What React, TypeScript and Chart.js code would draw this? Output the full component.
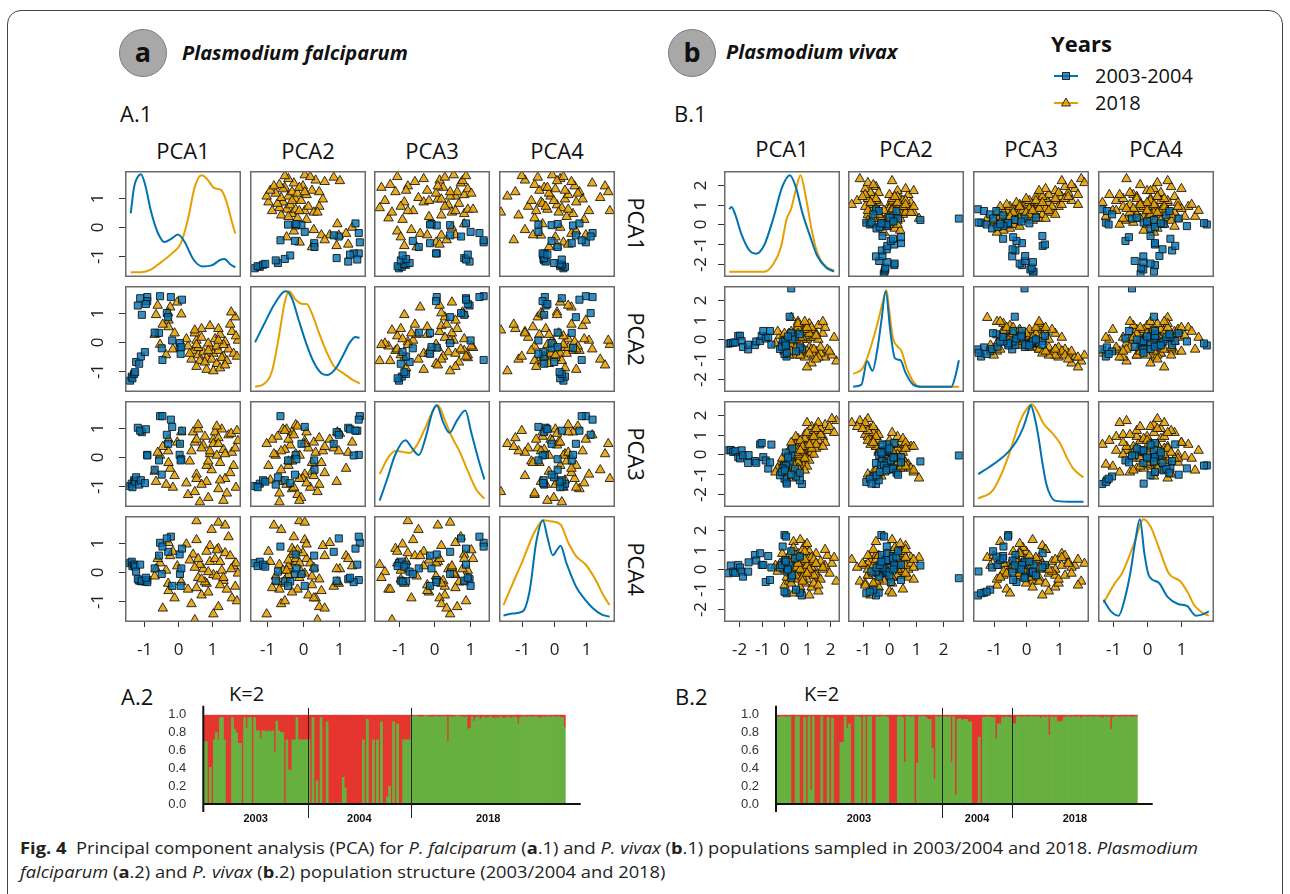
import React, { useEffect, useLayoutEffect, useRef } from 'react';
import { Chart, registerables } from 'chart.js';
Chart.register(...registerables);

const FONT = '"Open Sans", "DejaVu Sans", sans-serif';
const ARIAL = '"Liberation Sans", Arial, sans-serif';
const BLUE = '#0072B2';
const ORANGE = '#E69F00';
const BLUE_FILL = 'rgba(0,114,178,0.80)';
const ORANGE_FILL = 'rgba(230,159,0,0.88)';
const MARK_EDGE = 'rgba(15,15,15,0.85)';
const RED_Q = '#e5352f';
const GREEN_Q = '#67b03f';

const PCA_NAMES = ['PCA1', 'PCA2', 'PCA3', 'PCA4'];
const SERIES_NAMES = ['2003-2004', '2018'];
const YEAR_LABELS = ['2003', '2004', '2018'];

// ---- P. falciparum PCA scores [PCA1, PCA2, PCA3, PCA4]
const PF_2003_04 = [
  [-1.42, -1.33, -1.00, 0.30], [-1.37, -1.19, -0.92, 0.35], [-1.35, -1.25, -1.04, 0.20],
  [-1.30, -1.10, -0.80, 0.25], [-1.27, -1.04, -0.85, 0.18], [-1.24, -0.69, -0.70, 0.01],
  [-1.15, -0.75, -0.95, -0.30], [-1.10, -0.50, -0.80, -0.32], [-0.98, -0.35, -0.90, -0.33],
  [-1.19, 1.25, 1.00, -0.25], [-1.07, 0.93, 0.85, -0.30], [-0.91, 1.54, 0.07, -0.28],
  [-0.91, 1.40, 0.05, -0.35], [-1.12, 1.50, 0.90, 0.25], [-0.95, 1.30, 0.95, -0.20],
  [-0.53, 1.57, 1.40, 1.00], [-0.21, 1.54, 1.28, 1.21], [-0.33, 0.99, 0.76, 1.15],
  [-0.29, 0.85, 0.45, 0.69], [-0.56, 0.31, -0.12, 0.56], [-0.69, 0.32, -0.44, 0.12],
  [-0.48, -0.22, -0.61, -0.07], [-0.17, 0.05, 1.03, -0.48], [0.05, -0.20, 0.07, 0.60],
  [0.06, -0.04, 0.45, -0.07], [0.10, -0.18, -0.08, 0.12], [0.08, -0.41, -0.12, -0.48],
  [-0.46, -0.62, 1.40, 0.87], [0.12, 1.45, 0.90, 0.80],
];
const PF_2018 = [
  [0.45, -0.30, 0.85, 0.60], [0.60, -0.45, 0.95, -0.20], [0.75, -0.35, 0.40, 0.10], [0.85, -0.55, -0.85, -0.40],
  [0.95, -0.20, 0.10, 0.35], [1.05, -0.40, 0.60, -0.10], [1.20, -0.30, -1.10, 0.80], [1.35, -0.50, 0.25, -0.30],
  [1.50, -0.25, 0.75, 1.20], [1.65, -0.40, -0.30, 0.20], [1.78, 0.05, 0.55, -0.05], [0.30, -0.15, -1.30, -0.60],
  [0.55, 0.05, -0.60, 1.10], [0.70, 0.15, 0.30, -0.80], [0.90, -0.05, -1.40, 0.00], [1.10, 0.10, 0.85, 0.45],
  [1.25, 0.25, -0.20, -0.45], [1.40, 0.00, -0.75, 0.65], [1.60, 0.35, 0.15, -0.90], [1.72, 0.20, -1.05, 0.30],
  [0.40, -0.60, 0.20, -1.10], [0.65, -0.65, -1.55, 0.25], [0.80, -0.70, 0.70, -0.35], [1.00, -0.60, -0.45, 1.45],
  [1.15, -0.75, 0.05, -0.15], [1.30, -0.55, 0.95, 0.05], [1.45, -0.65, -1.25, -0.60], [0.50, 0.30, 0.50, 0.15],
  [0.70, 0.45, -0.95, -0.25], [0.95, 0.55, 0.20, 0.90], [1.20, 0.45, 0.65, -1.20], [1.55, 0.60, -0.55, 0.55],
  [1.70, 0.85, 0.30, -0.50], [1.58, 1.02, 0.80, 0.10], [0.35, -0.40, -0.15, 0.40], [0.55, -0.85, 0.60, -0.55],
  [0.85, -0.95, -0.30, 0.70], [1.05, -1.00, 0.45, -1.45], [1.25, -0.90, -0.80, 0.35], [1.40, -0.80, 0.10, 1.60],
  [0.60, -0.20, 1.10, 0.45], [0.90, -0.30, -0.15, -0.70], [1.15, -0.15, 1.05, 0.75], [1.35, -0.10, -1.50, -0.20],
  [1.75, -0.50, 0.90, -1.00], [0.25, 0.10, -0.90, 0.95], [-0.02, 1.36, 0.50, 0.20], [-0.23, 1.19, -0.40, 0.55],
  [-0.29, 0.99, 0.20, -0.40], [-0.65, 0.93, -0.85, 0.10], [-0.28, 0.74, 0.60, 1.00], [-0.28, 0.51, -0.20, -0.65],
  [-0.53, -0.09, 0.05, 0.30], [-0.69, 0.25, -0.50, -0.15], [-0.45, 0.60, 0.35, -1.25], [-0.15, -0.25, -1.05, 0.70],
  [-0.60, 1.25, 0.15, 0.45], [-0.10, 0.30, -0.65, -0.90], [0.10, 0.95, 0.85, -0.35], [-0.35, -0.45, -0.95, 0.05],
  [0.55, -0.10, -0.75, 1.75], [1.20, 0.05, 0.45, 1.70], [0.50, 0.40, -1.20, -1.65],
];

// ---- P. vivax PCA scores [PCA1, PCA2, PCA3, PCA4]
const PV_2003_04 = [
  [-2.49, -0.21, 0.21, -0.19], [-2.38, -0.18, 0.23, 0.20], [-2.27, -0.16, 0.13, -0.11], [-2.18, -0.15, 0.17, -0.17],
  [-2.05, 0.18, -0.13, 0.23], [-1.97, 0.19, -0.20, 0.10], [-1.90, -0.08, 0.21, -0.11], [-1.84, -0.38, -0.04, -0.36],
  [-1.61, -0.50, -0.43, -0.11], [-1.59, -0.26, -0.03, 0.36], [-1.31, -0.28, -0.33, 0.73], [-1.25, -0.10, -0.42, 0.45],
  [-1.08, -0.08, 0.51, 0.82], [-1.01, 0.18, 0.58, 0.23], [-0.94, 0.43, -0.13, 0.23], [-0.83, 0.05, -0.30, -0.63],
  [-0.72, 0.13, -0.71, 0.68], [-0.64, 0.43, -0.40, -0.53], [-0.58, -0.26, 0.50, 0.10],
  [0.30, 2.58, -0.05, -0.44], [0.23, 1.15, -0.35, 0.20], [0.00, -0.30, -0.55, 1.74], [0.07, -0.20, -0.56, 1.66],
  [-0.08, -0.10, -0.70, 1.16], [0.77, -0.50, -1.49, -1.31], [0.68, -0.40, -1.30, -1.17], [0.51, -0.60, -1.11, -1.02],
  [0.09, -0.86, -1.39, -1.20], [0.00, -0.73, -1.22, -1.12], [0.10, -0.67, -1.47, -0.10], [-0.20, -0.48, -1.05, 0.10],
  [-0.12, -0.36, -0.88, 0.23], [0.02, -0.11, -0.80, 0.48], [0.46, 0.13, -0.72, 0.56], [0.68, 0.26, -0.92, 0.65],
  [0.30, 0.32, -1.02, 0.92], [0.34, 0.00, 0.30, -0.30], [0.06, -0.30, 0.10, 0.40], [0.15, 0.15, -0.15, 0.00],
];
const PV_2018 = [
  [0.2, 0.3, -0.6, 0.1], [0.5, 0.1, -0.2, -0.4], [0.8, 0.5, 0.3, 0.5], [1.1, -0.4, 0.7, -0.2], [1.4, -0.6, 1.1, 0.8],
  [1.8, -0.9, 1.5, 0.2], [2.3, -1.1, 1.7, -0.6], [0.0, -0.6, -0.9, -0.8], [0.3, 0.4, -0.4, 0.9], [0.6, 0.3, 0.1, 0.0],
  [0.9, 0.6, 0.5, 1.2], [1.2, -0.5, 0.9, -0.9], [1.6, -0.7, 1.3, 0.4], [-0.2, 0.2, -0.5, 0.3], [0.4, -0.1, 0.0, -0.1],
  [0.7, 0.2, -0.3, 0.6], [1.0, 0.0, 0.2, -0.5], [1.3, 0.4, 0.6, 0.1], [0.1, -0.3, -1.1, 0.2], [0.5, 0.5, -0.7, -0.3],
  [0.8, 0.3, -0.4, 0.3], [1.1, 0.1, 0.0, 0.9], [1.5, 0.7, 0.4, -0.4], [0.3, -0.5, 0.4, 0.0], [0.6, -0.7, 0.8, 0.4],
  [0.9, -0.9, 1.0, -0.7], [1.2, -1.2, 1.4, 0.1], [1.0, -1.4, 1.6, 0.5], [0.4, -0.5, -0.8, 1.4], [0.7, 0.5, -0.6, -1.0],
  [0.9, 0.2, -0.1, 0.2], [0.6, 0.4, -0.2, 0.8], [0.8, 0.0, 0.2, -0.2], [0.5, 0.2, 0.5, 0.3], [0.2, -0.2, 0.2, -0.6],
  [0.0, 0.0, -0.3, 0.5], [-0.3, 0.4, -0.7, -0.1], [1.7, 0.3, 0.9, 0.0], [1.9, -0.5, 1.2, 0.7], [2.1, -0.8, 1.8, 0.3],
  [1.4, 0.3, 0.3, -0.3], [1.2, 0.5, 0.1, 0.4], [0.9, 0.7, -0.5, 0.0], [0.6, 0.9, -0.9, -0.5], [0.3, 1.1, -1.2, 0.6],
  [0.8, -0.6, 0.6, 1.0], [0.5, -0.8, 0.9, -0.3], [1.1, 0.8, 0.4, 0.6], [1.3, 0.1, 0.0, -0.7], [0.7, -0.4, 0.2, -0.9],
  [0.4, 0.2, -0.1, 1.1], [0.1, 0.1, -0.8, -0.4], [1.0, 0.4, -0.2, 1.3], [1.5, 0.0, 0.7, -1.1], [0.6, 0.6, -0.4, 0.2],
  [0.9, 0.5, 0.8, -0.1], [1.6, -0.4, 1.0, -0.5], [0.2, -0.8, -1.0, 0.7], [0.7, -0.2, -0.1, 0.4], [1.0, -0.6, 1.1, 0.2],
  [1.3, -0.8, 1.2, -0.3], [0.5, 0.0, 0.3, 0.1], [0.8, 0.1, 0.1, -0.4], [1.1, 0.3, -0.3, 0.0], [0.3, -0.3, -0.2, -0.2],
  [0.6, 0.3, 0.0, 0.5], [0.9, 0.5, -0.2, 0.9], [1.4, 0.2, 0.5, 0.3], [1.8, 0.6, 0.6, 1.0], [2.0, -0.6, 1.4, -0.2],
  [0.4, 0.1, -0.5, -1.2], [0.7, -0.8, 0.7, 0.0], [1.2, 0.6, 0.3, 0.6], [0.0, 0.3, -0.4, 0.0], [-0.1, -0.1, -0.2, 0.8],
  [0.6, 0.8, -0.7, 0.3], [1.0, 0.6, -0.6, -0.2], [1.3, -0.5, 0.9, 0.5], [1.5, -0.9, 1.6, -0.8], [0.8, -0.5, 0.4, -0.6],
  [0.5, -0.4, 0.1, 0.7], [1.7, 0.9, 0.4, 0.1], [0.2, 0.0, -0.3, 0.4], [0.9, 0.9, -0.8, 0.5], [1.1, -0.7, 0.5, -1.3],
  [0.7, 0.1, 0.2, 1.5], [1.4, -1.0, 1.3, 0.3], [-0.4, -0.2, -0.9, 0.2], [0.3, -0.6, 0.6, -0.7], [2.2, 0.1, 1.1, 0.6],
];

// ---- density curves on the diagonal, [value, relative density]
const PF_DENS_2003_04 = [
  [[-1.40, 0.60], [-1.30, 0.85], [-1.18, 0.95], [-1.10, 0.97], [-0.98, 0.88], [-0.80, 0.62], [-0.60, 0.42], [-0.40, 0.33], [-0.20, 0.36], [0.00, 0.40], [0.20, 0.33], [0.45, 0.17], [0.72, 0.10], [1.00, 0.11], [1.25, 0.16], [1.38, 0.17], [1.55, 0.12], [1.70, 0.09]],
  [[-1.32, 0.47], [-1.10, 0.62], [-0.80, 0.82], [-0.55, 0.94], [-0.45, 0.95], [-0.30, 0.88], [-0.10, 0.66], [0.10, 0.45], [0.30, 0.28], [0.50, 0.18], [0.68, 0.16], [0.90, 0.22], [1.10, 0.34], [1.30, 0.47], [1.45, 0.52], [1.56, 0.51]],
  [[-1.55, 0.06], [-1.35, 0.25], [-1.10, 0.50], [-0.82, 0.63], [-0.62, 0.55], [-0.44, 0.49], [-0.25, 0.65], [-0.05, 0.90], [0.07, 0.96], [0.25, 0.80], [0.43, 0.70], [0.65, 0.82], [0.88, 0.91], [1.05, 0.70], [1.25, 0.45], [1.42, 0.26]],
  [[-1.57, 0.06], [-1.30, 0.08], [-0.97, 0.10], [-0.75, 0.30], [-0.55, 0.75], [-0.34, 0.96], [-0.20, 0.80], [-0.03, 0.63], [0.10, 0.68], [0.21, 0.72], [0.40, 0.55], [0.70, 0.33], [0.95, 0.22], [1.22, 0.13], [1.50, 0.07], [1.74, 0.05]],
];
const PF_DENS_2018 = [
  [[-1.40, 0.044], [-1.10, 0.045], [-0.80, 0.07], [-0.50, 0.14], [-0.15, 0.23], [0.09, 0.32], [0.30, 0.55], [0.50, 0.85], [0.70, 0.96], [0.85, 0.93], [1.07, 0.84], [1.20, 0.83], [1.31, 0.81], [1.45, 0.70], [1.60, 0.52], [1.70, 0.41]],
  [[-1.32, 0.05], [-1.10, 0.07], [-0.85, 0.20], [-0.65, 0.55], [-0.50, 0.85], [-0.38, 0.95], [-0.20, 0.87], [0.00, 0.83], [0.10, 0.83], [0.25, 0.74], [0.45, 0.55], [0.65, 0.38], [0.84, 0.25], [1.10, 0.18], [1.35, 0.12], [1.57, 0.08]],
  [[-1.55, 0.31], [-1.30, 0.47], [-1.08, 0.53], [-0.90, 0.52], [-0.70, 0.51], [-0.50, 0.58], [-0.25, 0.75], [0.00, 0.93], [0.10, 0.96], [0.30, 0.82], [0.50, 0.66], [0.71, 0.53], [0.95, 0.34], [1.20, 0.16], [1.42, 0.08]],
  [[-1.57, 0.16], [-1.20, 0.42], [-0.97, 0.58], [-0.60, 0.85], [-0.30, 0.96], [-0.10, 0.95], [0.21, 0.92], [0.45, 0.75], [0.70, 0.62], [1.00, 0.54], [1.30, 0.40], [1.55, 0.25], [1.74, 0.16]],
];
const PV_DENS_2003_04 = [
  [[-2.45, 0.64], [-2.35, 0.66], [-2.20, 0.60], [-1.90, 0.40], [-1.55, 0.25], [-1.26, 0.22], [-0.90, 0.30], [-0.50, 0.55], [-0.10, 0.85], [0.24, 0.96], [0.50, 0.85], [0.80, 0.60], [1.11, 0.40], [1.45, 0.20], [1.84, 0.09], [2.20, 0.05]],
  [[-1.35, 0.05], [-1.04, 0.07], [-0.83, 0.29], [-0.63, 0.20], [-0.45, 0.40], [-0.30, 0.67], [-0.14, 0.95], [0.03, 0.58], [0.20, 0.32], [0.41, 0.30], [0.60, 0.18], [0.88, 0.07], [1.19, 0.05], [1.80, 0.05], [2.30, 0.05], [2.45, 0.15], [2.58, 0.30]],
  [[-1.48, 0.31], [-1.12, 0.38], [-0.80, 0.45], [-0.55, 0.52], [-0.30, 0.62], [-0.09, 0.75], [0.05, 0.88], [0.14, 0.96], [0.26, 0.85], [0.38, 0.66], [0.50, 0.42], [0.62, 0.22], [0.75, 0.11], [0.89, 0.06], [1.30, 0.05], [1.77, 0.05]],
  [[-1.27, 0.21], [-1.05, 0.10], [-0.83, 0.06], [-0.65, 0.22], [-0.49, 0.46], [-0.35, 0.75], [-0.21, 0.97], [-0.08, 0.65], [0.05, 0.44], [0.34, 0.37], [0.59, 0.24], [0.90, 0.17], [1.17, 0.15], [1.42, 0.06], [1.60, 0.07], [1.80, 0.10]],
];
const PV_DENS_2018 = [
  [[-2.45, 0.05], [-1.50, 0.05], [-0.90, 0.05], [-0.50, 0.12], [-0.16, 0.28], [0.10, 0.55], [0.29, 0.64], [0.50, 0.82], [0.71, 0.96], [0.95, 0.75], [1.20, 0.45], [1.38, 0.28], [1.60, 0.16], [1.84, 0.10], [2.20, 0.06]],
  [[-1.35, 0.17], [-0.98, 0.23], [-0.70, 0.42], [-0.42, 0.67], [-0.25, 0.85], [-0.11, 0.96], [0.00, 0.75], [0.13, 0.51], [0.30, 0.43], [0.44, 0.39], [0.65, 0.22], [0.88, 0.10], [1.12, 0.05], [1.80, 0.05], [2.58, 0.05]],
  [[-1.48, 0.08], [-1.02, 0.16], [-0.75, 0.32], [-0.50, 0.52], [-0.20, 0.80], [0.05, 0.94], [0.17, 0.97], [0.35, 0.90], [0.53, 0.79], [0.80, 0.70], [1.05, 0.60], [1.25, 0.47], [1.46, 0.36], [1.77, 0.28]],
  [[-1.27, 0.18], [-0.95, 0.36], [-0.73, 0.46], [-0.39, 0.73], [-0.10, 0.97], [0.10, 0.90], [0.30, 0.74], [0.63, 0.46], [0.98, 0.38], [1.20, 0.27], [1.37, 0.16], [1.60, 0.09], [1.80, 0.06]],
];

// ---- axis ranges and ticks
const PF_X_RANGES = [[-1.57, 1.87], [-1.46, 1.74], [-1.71, 1.58], [-1.71, 1.91]];
const PF_Y_RANGE = [-1.72, 1.92];
const PF_X_TICKS = [[-1, 0, 1], [-1, 0, 1], [-1, 0, 1], [-1, 0, 1]];
const PF_Y_TICKS = [-1, 0, 1];
const PV_X_RANGES = [[-2.68, 2.46], [-1.54, 2.77], [-1.64, 1.94], [-1.43, 1.95]];
const PV_Y_RANGE = [-2.65, 2.7];
const PV_X_TICKS = [[-2, -1, 0, 1, 2], [-1, 0, 1, 2], [-1, 0, 1], [-1, 0, 1]];
const PV_Y_TICKS = [-2, -1, 0, 1, 2];
const Q_TICKS = [0, 0.2, 0.4, 0.6, 0.8, 1.0];

// ---- STRUCTURE K=2 membership (green cluster proportion per isolate)
const PF_Q_2003 = [0.70, 0.70, 0.0, 0.41, 0.0, 0.72, 0.80, 0.72, 0.97, 0.97, 0.72, 0.0, 0.0, 0.0, 0.97, 0.84, 0.80, 0.68, 0.68, 0.0, 0.97, 0.85, 0.97, 0.97, 0.0, 0.97, 0.82, 0.82, 0.73, 0.82, 0.82, 0.81, 0.82, 0.81, 0.82, 0.58, 0.93, 0.82, 0.80, 0.80, 0.0, 0.72, 0.38, 0.38, 0.72, 0.72, 0.97, 0.72, 0.72, 0.72, 0.72, 0.72];
const PF_Q_2004 = [0.72, 0.0, 0.97, 0.0, 0.26, 0.0, 0.97, 0.0, 0.0, 0.92, 0.0, 0.01, 0.01, 0.01, 0.01, 0.01, 0.01, 0.30, 0.18, 0.0, 0.0, 0.0, 0.0, 0.0, 0.0, 0.0, 0.0, 0.72, 0.0, 0.95, 0.0, 0.0, 0.72, 0.0, 0.72, 0.0, 0.92, 0.0, 0.0, 0.08, 0.20, 0.0, 0.92, 0.0, 0.90, 0.0, 0.01, 0.72, 0.72, 0.72, 0.72];
const PF_Q_2018 = [0.98, 0.98, 0.99, 0.98, 0.98, 0.97, 0.98, 0.99, 0.98, 0.98, 0.97, 0.98, 0.98, 0.98, 0.97, 0.98, 0.98, 0.98, 0.70, 0.98, 0.97, 0.98, 0.98, 0.99, 0.98, 0.98, 0.97, 0.98, 0.84, 0.85, 0.98, 0.93, 0.97, 0.98, 0.95, 0.97, 0.98, 0.96, 0.97, 0.98, 0.97, 0.96, 0.97, 0.96, 0.98, 0.97, 0.96, 0.97, 0.98, 0.96, 0.97, 0.98, 0.97, 0.90, 0.97, 0.98, 0.98, 0.97, 0.98, 0.98, 0.97, 0.98, 0.98, 0.97, 0.96, 0.98, 0.97, 0.98, 0.98, 0.97, 0.98, 0.98, 0.97, 0.98, 0.97, 0.97, 0.86];
const PV_Q_2003 = [0.98, 0.97, 0.98, 0.98, 0.97, 0.98, 0.98, 0, 0, 0.98, 0.98, 0, 0, 0.97, 0, 0.98, 0.16, 0.98, 0, 0, 0, 0.98, 0, 0, 0.97, 0, 0.96, 0, 0, 0, 0.69, 0.69, 0.98, 0.85, 0.90, 0, 0, 0.98, 0.98, 0.97, 0, 0.98, 0, 0.98, 0.98, 0, 0, 0.98, 0.97, 0.98, 0.98, 0.98, 0.97, 0, 0, 0, 0, 0.98, 0.98, 0.97, 0.47, 0.98, 0.98, 0.97, 0.98, 0, 0.46, 0.98, 0.98, 0.98, 0.97, 0.95, 0.95, 0.62, 0.28, 0.98, 0.97, 0.98];
const PV_Q_2004 = [0.98, 0.98, 0.97, 0.98, 0.47, 0.98, 0.10, 0.95, 0.96, 0.94, 0.95, 0.95, 0.92, 0.92, 0, 0, 0, 0.75, 0, 0.97, 0.97, 0.98, 0.97, 0.97, 0.97, 0.73, 0.90, 0.90, 0.97, 0.97, 0.98, 0.97, 0.97];
const PV_Q_2018 = [0.90, 0.90, 0.98, 0.98, 0.97, 0.98, 0.98, 0.97, 0.98, 0.98, 0.97, 0.98, 0.98, 0.96, 0.98, 0.97, 0.98, 0.77, 0.98, 0.97, 0.98, 0.92, 0.92, 0.93, 0.97, 0.98, 0.98, 0.97, 0.98, 0.98, 0.97, 0.98, 0.96, 0.98, 0.98, 0.97, 0.98, 0.98, 0.97, 0.98, 0.98, 0.97, 0.96, 0.98, 0.97, 0.98, 0.84, 0.97, 0.98, 0.98, 0.97, 0.98, 0.98, 0.97, 0.98, 0.98, 0.97, 0.98, 0.98];

// ---------------------------------------------------------------------------
const PANEL_W = 116;
const PANEL_H = 106;
const ROW_TOPS = [171, 286, 401, 516];
const PF_COLS = [125, 250, 374, 499];
const PV_COLS = [724, 848, 973, 1098];

function Panel(props: any) {
  const ref = useRef<HTMLCanvasElement>(null);
  const { left, top, padL, padB } = props;
  const cw = PANEL_W + padL;
  const ch = PANEL_H + padB;
  useEffect(() => {
    const p = props;
    const decor = {
      id: 'decor',
      afterDraw(chart: any) {
        const { ctx, chartArea: a } = chart;
        ctx.save();
        ctx.strokeStyle = '#6a6a6a';
        ctx.lineWidth = 1.5;
        ctx.strokeRect(a.left + 0.75, a.top + 0.75, a.right - a.left - 1.5, a.bottom - a.top - 1.5);
        ctx.strokeStyle = '#333';
        ctx.lineWidth = 1;
        ctx.fillStyle = '#222';
        ctx.font = `17px ${FONT}`;
        if (p.xTicks) {
          const xs = chart.scales.x;
          ctx.textAlign = 'center';
          ctx.textBaseline = 'middle';
          for (const v of p.xTicks) {
            const px = Math.round(xs.getPixelForValue(v)) + 0.5;
            ctx.beginPath();
            ctx.moveTo(px, a.bottom);
            ctx.lineTo(px, a.bottom + 5);
            ctx.stroke();
            ctx.fillText(String(v), px, a.bottom + 28);
          }
        }
        if (p.yTicks) {
          const ys = chart.scales.yt;
          ctx.textAlign = 'center';
          ctx.textBaseline = 'middle';
          for (const v of p.yTicks) {
            const py = Math.round(ys.getPixelForValue(v)) + 0.5;
            ctx.beginPath();
            ctx.moveTo(a.left - 6, py);
            ctx.lineTo(a.left, py);
            ctx.stroke();
            ctx.save();
            ctx.translate(a.left - p.yGap, py);
            ctx.rotate(-Math.PI / 2);
            ctx.fillText(String(v), 0, 0);
            ctx.restore();
          }
        }
        ctx.restore();
      },
    };
    const chart = new Chart(ref.current as HTMLCanvasElement, {
      type: 'scatter',
      data: { datasets: p.datasets },
      options: {
        animation: false,
        responsive: false,
        events: [],
        layout: { autoPadding: false, padding: { left: padL, bottom: padB, top: 0, right: 0 } },
        scales: {
          x: { type: 'linear', display: false, min: p.xRange[0], max: p.xRange[1] },
          y: { type: 'linear', display: false, min: p.yRange[0], max: p.yRange[1] },
          yt: { type: 'linear', display: false, position: 'left', min: p.tickRange[0], max: p.tickRange[1] },
        },
        plugins: { legend: { display: false }, tooltip: { enabled: false } },
      } as any,
      plugins: [decor],
    });
    return () => chart.destroy();
  }, []);
  return (
    <canvas
      ref={ref}
      width={cw}
      height={ch}
      style={{ position: 'absolute', left: left - padL, top, width: cw, height: ch }}
    />
  );
}

function pointSet(samples: number[][], xi: number, yi: number, blue: boolean) {
  return {
    label: blue ? SERIES_NAMES[0] : SERIES_NAMES[1],
    data: samples.map((s) => ({ x: s[xi], y: s[yi] })),
    pointStyle: blue ? 'rect' : 'triangle',
    pointRadius: blue ? 5 : 5.5,
    pointBackgroundColor: blue ? BLUE_FILL : ORANGE_FILL,
    pointBorderColor: MARK_EDGE,
    pointBorderWidth: 1,
    showLine: false,
  };
}

function densSet(curve: number[][], blue: boolean) {
  return {
    label: blue ? SERIES_NAMES[0] : SERIES_NAMES[1],
    data: curve.map(([x, y]) => ({ x, y })),
    showLine: true,
    pointRadius: 0,
    borderColor: blue ? BLUE : ORANGE,
    borderWidth: 2,
    cubicInterpolationMode: 'monotone',
    fill: false,
  };
}

function PairsGrid({ cols, xRanges, yRange, xTicks, yTicks, blueS, orangeS, blueD, orangeD, yGap }: any) {
  const panels: any[] = [];
  for (let i = 0; i < 4; i++) {
    for (let j = 0; j < 4; j++) {
      const diag = i === j;
      const datasets = diag
        ? [densSet(blueD[i], true), densSet(orangeD[i], false)]
        : [pointSet(blueS, j, i, true), pointSet(orangeS, j, i, false)];
      panels.push(
        <Panel
          key={`${i}-${j}`}
          left={cols[j]}
          top={ROW_TOPS[i]}
          padL={j === 0 ? 50 : 0}
          padB={i === 3 ? 45 : 0}
          datasets={datasets}
          xRange={xRanges[j]}
          yRange={diag ? [0, 1] : yRange}
          tickRange={yRange}
          xTicks={i === 3 ? xTicks[j] : null}
          yTicks={j === 0 ? yTicks : null}
          yGap={yGap}
        />
      );
    }
  }
  return <>{panels}</>;
}

function StructurePlot({ left, top, axisW, padR, groups }: any) {
  const ref = useRef<HTMLCanvasElement>(null);
  const W = 460;
  const H = 140;
  useEffect(() => {
    const green: number[] = ([] as number[]).concat(...groups);
    const red = green.map((g) => 1 - g);
    const labels = green.map((_, i) => String(i));
    const sizes = groups.map((g: number[]) => g.length);
    const deco = {
      id: 'structDeco',
      afterDraw(chart: any) {
        const { ctx, chartArea: a } = chart;
        const xs = chart.scales.x;
        const step = xs.getPixelForValue(1) - xs.getPixelForValue(0);
        const bound = (idx: number) => xs.getPixelForValue(idx) - step / 2;
        ctx.save();
        ctx.strokeStyle = '#111';
        ctx.lineWidth = 2;
        ctx.beginPath();
        ctx.moveTo(a.left, a.top - 9);
        ctx.lineTo(a.left, a.bottom + 8);
        ctx.moveTo(a.left - 1, a.bottom);
        ctx.lineTo(a.right + 15, a.bottom);
        ctx.stroke();
        ctx.lineWidth = 1;
        ctx.strokeStyle = '#222';
        let acc = 0;
        const edges = [bound(0)];
        sizes.forEach((n: number) => {
          acc += n;
          edges.push(bound(acc));
        });
        for (let k = 1; k < edges.length - 1; k++) {
          const x = Math.round(edges[k]) + 0.5;
          ctx.beginPath();
          ctx.moveTo(x, a.top - 7);
          ctx.lineTo(x, a.bottom + 14);
          ctx.stroke();
        }
        ctx.fillStyle = '#111';
        ctx.font = `bold 11px ${ARIAL}`;
        ctx.textAlign = 'center';
        ctx.textBaseline = 'middle';
        for (let k = 0; k < YEAR_LABELS.length; k++) {
          ctx.fillText(YEAR_LABELS[k], (edges[k] + edges[k + 1]) / 2, a.bottom + 15);
        }
        ctx.restore();
      },
    };
    const chart = new Chart(ref.current as HTMLCanvasElement, {
      type: 'bar',
      data: {
        labels,
        datasets: [
          { data: green, backgroundColor: GREEN_Q, borderWidth: 0, barPercentage: 1, categoryPercentage: 1 },
          { data: red, backgroundColor: RED_Q, borderWidth: 0, barPercentage: 1, categoryPercentage: 1 },
        ],
      },
      options: {
        animation: false,
        responsive: false,
        events: [],
        layout: { autoPadding: false, padding: { left: 0, right: padR, top: 24, bottom: 26 } },
        scales: {
          x: { stacked: true, display: false },
          y: {
            stacked: true,
            min: 0,
            max: 1,
            afterBuildTicks: (s: any) => {
              s.ticks = Q_TICKS.map((v) => ({ value: v }));
            },
            afterFit: (s: any) => {
              s.width = axisW;
            },
            grid: { display: false, drawTicks: false },
            border: { display: false },
            ticks: {
              autoSkip: false,
              padding: 17,
              color: '#333',
              font: { family: ARIAL, size: 13 },
              callback: (v: any) => Number(v).toFixed(1),
            },
          },
        },
        plugins: { legend: { display: false }, tooltip: { enabled: false } },
      } as any,
      plugins: [deco],
    });
    return () => chart.destroy();
  }, []);
  return <canvas ref={ref} width={W} height={H} style={{ position: 'absolute', left, top, width: W, height: H }} />;
}

function Txt({ x, y, size, weight, italic, center, rotate, children, family }: any) {
  let tf = center ? 'translate(-50%,-50%)' : 'translate(0,-50%)';
  if (rotate) tf += ` rotate(${rotate}deg)`;
  return (
    <div
      style={{
        position: 'absolute',
        left: x,
        top: y,
        transform: tf,
        whiteSpace: 'nowrap',
        fontFamily: family || FONT,
        fontSize: size,
        fontWeight: weight || 400,
        fontStyle: italic ? 'italic' : 'normal',
        color: '#111',
        lineHeight: 1,
      }}
    >
      {children}
    </div>
  );
}

function Badge({ cx, cy, letter }: any) {
  return (
    <div
      style={{
        position: 'absolute',
        left: cx - 24,
        top: cy - 24,
        width: 48,
        height: 48,
        borderRadius: '50%',
        background: '#a8a8a8',
        border: '1.5px solid #7d7d7d',
        boxSizing: 'border-box',
        display: 'flex',
        alignItems: 'center',
        justifyContent: 'center',
        fontFamily: FONT,
        fontWeight: 700,
        fontSize: 27,
        color: '#111',
        lineHeight: 1,
        paddingBottom: 3,
      }}
    >
      {letter}
    </div>
  );
}

export default function App() {
  const cap1 = useRef<HTMLDivElement>(null);
  const cap2 = useRef<HTMLDivElement>(null);
  useLayoutEffect(() => {
    const a = cap1.current;
    const b = cap2.current;
    if (!a || !b) return;
    const k = 1178 / a.offsetWidth;
    a.style.transform = `translateY(-50%) scaleX(${k})`;
    b.style.transform = `translateY(-50%) scaleX(${k})`;
  }, []);
  const capStyle: any = {
    position: 'absolute',
    left: 20,
    whiteSpace: 'nowrap',
    fontFamily: FONT,
    fontSize: 16.5,
    color: '#222',
    transformOrigin: 'left center',
    lineHeight: 1,
  };
  return (
    <div style={{ position: 'fixed', left: 0, top: 0, width: 1290, height: 894, background: '#fff', overflow: 'hidden' }}>
      <div style={{ position: 'absolute', left: 7, top: 10, width: 1276, height: 930, border: '1px solid #444', borderRadius: 14, boxSizing: 'border-box' }} />

      <Badge cx={143} cy={53} letter="a" />
      <Txt x={182} y={53} size={20} weight={700} italic>Plasmodium falciparum</Txt>
      <Badge cx={692} cy={53} letter="b" />
      <Txt x={726} y={52} size={20} weight={700} italic>Plasmodium vivax</Txt>

      <Txt x={1051} y={43} size={22} weight={700}>Years</Txt>
      <svg style={{ position: 'absolute', left: 1050, top: 62 }} width={34} height={54}>
        <line x1={4} y1={14} x2={28} y2={14} stroke={BLUE} strokeWidth={2} />
        <rect x={12.5} y={10.5} width={7} height={7} fill={BLUE_FILL} stroke={MARK_EDGE} strokeWidth={1} />
        <line x1={4} y1={41} x2={28} y2={41} stroke={ORANGE} strokeWidth={2} />
        <polygon points="16,36 20.5,44 11.5,44" fill={ORANGE_FILL} stroke={MARK_EDGE} strokeWidth={1} />
      </svg>
      <Txt x={1095} y={76} size={20}>{SERIES_NAMES[0]}</Txt>
      <Txt x={1095} y={103} size={20}>{SERIES_NAMES[1]}</Txt>

      <Txt x={120} y={113} size={22}>A.1</Txt>
      <Txt x={674} y={113} size={22}>B.1</Txt>

      {PF_COLS.map((c, j) => (
        <Txt key={'ph' + j} x={c + PANEL_W / 2} y={150} size={22} center>{PCA_NAMES[j]}</Txt>
      ))}
      {PV_COLS.map((c, j) => (
        <Txt key={'vh' + j} x={c + PANEL_W / 2} y={148} size={22} center>{PCA_NAMES[j]}</Txt>
      ))}
      {ROW_TOPS.map((r, i) => (
        <Txt key={'pr' + i} x={637} y={r + PANEL_H / 2} size={22} center rotate={90}>{PCA_NAMES[i]}</Txt>
      ))}

      <PairsGrid
        cols={PF_COLS}
        xRanges={PF_X_RANGES}
        yRange={PF_Y_RANGE}
        xTicks={PF_X_TICKS}
        yTicks={PF_Y_TICKS}
        blueS={PF_2003_04}
        orangeS={PF_2018}
        blueD={PF_DENS_2003_04}
        orangeD={PF_DENS_2018}
        yGap={27}
      />
      <PairsGrid
        cols={PV_COLS}
        xRanges={PV_X_RANGES}
        yRange={PV_Y_RANGE}
        xTicks={PV_X_TICKS}
        yTicks={PV_Y_TICKS}
        blueS={PV_2003_04}
        orangeS={PV_2018}
        blueD={PV_DENS_2003_04}
        orangeD={PV_DENS_2018}
        yGap={23}
      />

      <Txt x={121} y={696} size={22}>A.2</Txt>
      <Txt x={229} y={694} size={20}>K=2</Txt>
      <Txt x={675} y={696} size={22}>B.2</Txt>
      <Txt x={804} y={694} size={20}>K=2</Txt>

      <StructurePlot left={140} top={690} axisW={63.3} padR={34.3} groups={[PF_Q_2003, PF_Q_2004, PF_Q_2018]} />
      <StructurePlot left={713} top={690} axisW={63} padR={35.3} groups={[PV_Q_2003, PV_Q_2004, PV_Q_2018]} />

      <div ref={cap1} style={{ ...capStyle, top: 848 }}>
        <b>Fig. 4</b>&nbsp;&nbsp;Principal component analysis (PCA) for <i>P. falciparum</i> (<b>a</b>.1) and <i>P. vivax</i> (<b>b</b>.1) populations sampled in 2003/2004 and 2018. <i>Plasmodium</i>
      </div>
      <div ref={cap2} style={{ ...capStyle, top: 872 }}>
        <i>falciparum</i> (<b>a</b>.2) and <i>P. vivax</i> (<b>b</b>.2) population structure (2003/2004 and 2018)
      </div>
    </div>
  );
}
